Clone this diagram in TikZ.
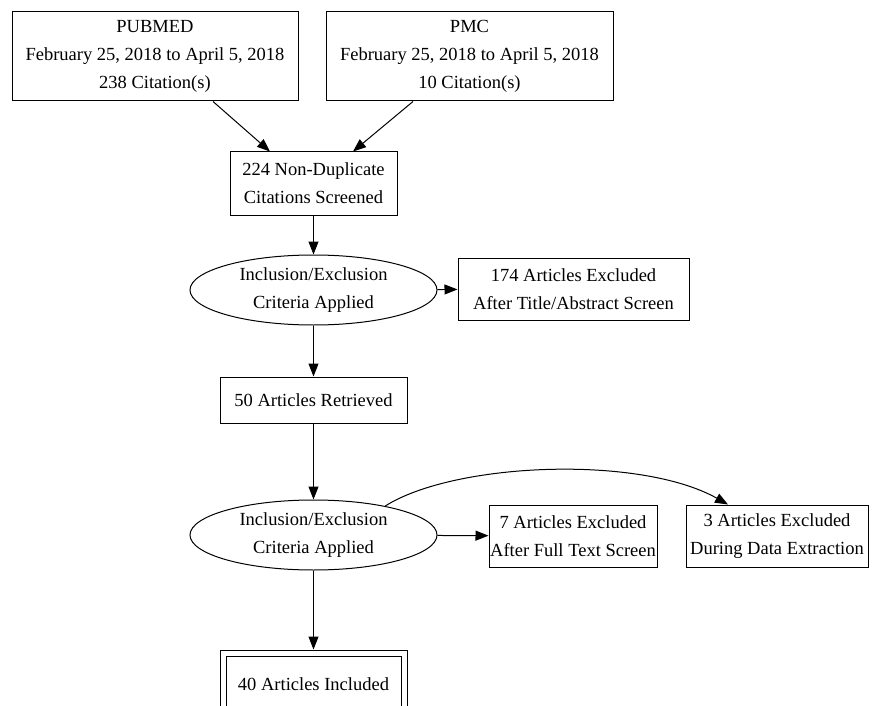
\documentclass[tikz,border=0pt]{standalone}
\usepackage{fontspec}
\setmainfont{Liberation Serif}
\usetikzlibrary{arrows.meta,positioning,shapes.geometric}

\begin{document}
\begin{tikzpicture}[
    x=1pt, y=-1pt,
    every node/.style={font=\fontsize{18.5}{28}\selectfont},
    box/.style={draw, line width=1pt, align=center, inner sep=0pt},
    crit/.style={draw, ellipse, line width=1pt, align=center, inner sep=0pt, minimum width=247pt, minimum height=70pt},
    arr/.style={-{Triangle[length=13pt, width=10pt]}, line width=1pt}
]
\useasboundingbox (0,0) rectangle (876,706);

\node[box, minimum width=286pt, minimum height=89pt] (pubmed) at (155,56.5) {PUBMED\\ February 25, 2018 to April 5, 2018\\ 238 Citation(s)};
\node[box, minimum width=287pt, minimum height=89pt] (pmc) at (469.5,56.5) {PMC\\ February 25, 2018 to April 5, 2018\\ 10 Citation(s)};
\node[box, minimum width=167pt, minimum height=63pt] (screened) at (313.5,183.5) {224 Non-Duplicate\\ Citations Screened};
\node[crit] (crit1) at (313.5,290) {Inclusion/Exclusion\\ Criteria Applied};
\node[box, minimum width=231pt, minimum height=62pt] (excl1) at (573.5,289) {174 Articles Excluded\\ After Title/Abstract Screen};
\node[box, minimum width=187pt, minimum height=46pt] (retrieved) at (313.5,400) {50 Articles Retrieved};
\node[crit] (crit2) at (313.5,535) {Inclusion/Exclusion\\ Criteria Applied};
\node[box, minimum width=168pt, minimum height=62pt] (excl2) at (573,536) {7 Articles Excluded\\ After Full Text Screen};
\node[box, minimum width=182pt, minimum height=62pt] (excl3) at (777,536) {3 Articles Excluded\\ During Data Extraction};
\node[box, double, double distance=5pt, minimum width=181pt, minimum height=62pt] (included) at (313.5,684) {40 Articles Included};

\draw[arr] ([xshift=58pt]pubmed.south) -- ([xshift=-43.5pt]screened.north);
\draw[arr] ([xshift=-56.5pt]pmc.south) -- ([xshift=39.5pt]screened.north);
\draw[arr] (screened) -- (crit1);
\draw[arr] (crit1) -- (excl1);
\draw[arr] (crit1) -- (retrieved);
\draw[arr] (retrieved) -- (crit2);
\draw[arr] (crit2) -- (excl2);
\draw[arr] (crit2.22) .. controls (455,462) and (640,455) .. ([xshift=-49pt]excl3.north);
\draw[arr, shorten >=3pt] (crit2) -- (included);
\end{tikzpicture}
\end{document}
